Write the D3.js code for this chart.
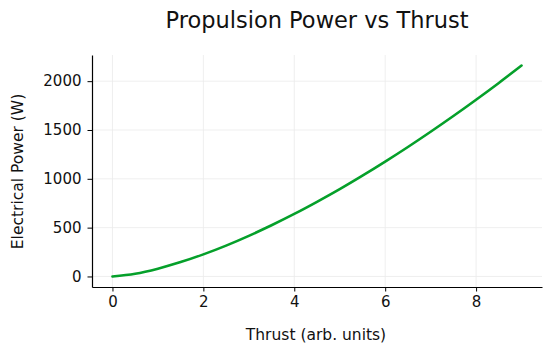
<!DOCTYPE html>
<html>
<head>
<meta charset="utf-8">
<script src="https://cdn.jsdelivr.net/npm/d3@7"></script>
<style>
  body { margin: 0; background: #fff; }
  text { font-family: "DejaVu Sans", sans-serif; fill: #111; }
</style>
</head>
<body>
<div id="chart"></div>
<script>
// values
const thrust = [0, 0.5, 1, 1.5, 2, 2.5, 3, 3.5, 4, 4.5, 5, 5.5, 6, 6.5, 7, 7.5, 8, 8.5, 9];
const power = [0, 28, 80, 147, 226, 316, 416, 524, 640, 764, 894, 1032, 1176, 1326, 1482, 1643, 1810, 1982, 2160];
const xTicks = [0, 2, 4, 6, 8];
const yTicks = [0, 500, 1000, 1500, 2000];

const dimensions = {
  width: 550,
  height: 352,
  margin: { top: 55, bottom: 65, left: 92, right: 8 }
};

const svg = d3.select('#chart')
  .append('svg')
  .attr('width', dimensions.width)
  .attr('height', dimensions.height);

const bodyWidth = dimensions.width - dimensions.margin.left - dimensions.margin.right;
const bodyHeight = dimensions.height - dimensions.margin.top - dimensions.margin.bottom;

// 5% padding on both axes like the original
const xPad = (d3.max(thrust) - d3.min(thrust)) * 0.05;
const yPad = (d3.max(power) - d3.min(power)) * 0.05;
const xScale = d3.scaleLinear()
  .domain([d3.min(thrust) - xPad, d3.max(thrust) + xPad])
  .range([0, bodyWidth]);
const yScale = d3.scaleLinear()
  .domain([d3.min(power) - yPad, d3.max(power) + yPad])
  .range([bodyHeight, 0]);

const body = svg.append('g')
  .attr('transform', `translate(${dimensions.margin.left},${dimensions.margin.top})`);

// grid
body.append('g').selectAll('line').data(xTicks).enter().append('line')
  .attr('x1', d => xScale(d)).attr('x2', d => xScale(d))
  .attr('y1', 0).attr('y2', bodyHeight)
  .attr('stroke', '#ebebeb').attr('stroke-width', 0.8);
body.append('g').selectAll('line').data(yTicks).enter().append('line')
  .attr('y1', d => yScale(d)).attr('y2', d => yScale(d))
  .attr('x1', 0).attr('x2', bodyWidth)
  .attr('stroke', '#ebebeb').attr('stroke-width', 0.8);

// axes
const xAxis = body.append('g')
  .attr('transform', `translate(0,${bodyHeight})`)
  .call(d3.axisBottom(xScale).tickValues(xTicks).tickFormat(d3.format('d'))
    .tickSize(4.5).tickPadding(5).tickSizeOuter(0));
const yAxis = body.append('g')
  .call(d3.axisLeft(yScale).tickValues(yTicks).tickFormat(d3.format('d'))
    .tickSize(4.5).tickPadding(6).tickSizeOuter(0));
[xAxis, yAxis].forEach(a => {
  a.attr('font-size', null).attr('font-family', null);
  a.select('.domain').attr('stroke', '#000').attr('stroke-width', 1.2);
  a.selectAll('.tick line').attr('stroke', '#000').attr('stroke-width', 1);
  a.selectAll('.tick text').style('font-size', '15px').attr('fill', '#111');
});

// line
const line = d3.line()
  .x((d, i) => xScale(thrust[i]))
  .y(d => yScale(d))
  .curve(d3.curveMonotoneX);
body.append('path')
  .datum(power)
  .attr('d', line)
  .attr('fill', 'none')
  .attr('stroke', '#05a02a')
  .attr('stroke-width', 2.6)
  .attr('stroke-linecap', 'round');

// labels
svg.append('text')
  .attr('x', 317).attr('y', 28)
  .attr('text-anchor', 'middle')
  .style('font-size', '22.5px')
  .text('Propulsion Power vs Thrust');

svg.append('text')
  .attr('x', 316).attr('y', 340)
  .attr('text-anchor', 'middle')
  .style('font-size', '15.5px')
  .text('Thrust (arb. units)');

svg.append('text')
  .attr('transform', `translate(23,171.5) rotate(-90)`)
  .attr('text-anchor', 'middle')
  .style('font-size', '15.5px')
  .text('Electrical Power (W)');
</script>
</body>
</html>
